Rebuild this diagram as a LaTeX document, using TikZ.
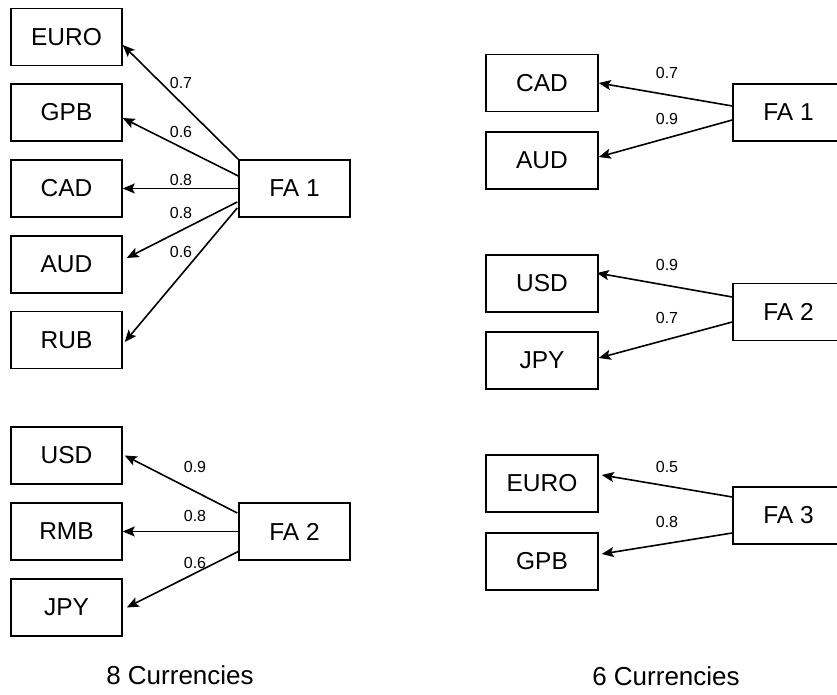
\documentclass[tikz,border=0pt]{standalone}
\usepackage{fontspec}
\setmainfont{Liberation Sans}
\usetikzlibrary{arrows.meta}
\begin{document}
\begin{tikzpicture}[x=1pt,y=1pt,
  box/.style={draw,line width=1.5pt,minimum width=111pt,minimum height=57pt,inner sep=0pt,font=\fontsize{24.5}{28}\selectfont},
  lbl/.style={inner sep=0pt,font=\fontsize{16}{19}\selectfont},
  captxt/.style={inner sep=0pt,font=\fontsize{26}{30}\selectfont},
  conn/.style={line width=1.6pt,-{Stealth[length=12pt,width=10pt,inset=2.5pt]}}]
\useasboundingbox (0,0) rectangle (837,695);
% ---- left: FA1 group
\node[box] (le) at (66.5,658) {EURO};
\node[box] (lg) at (66.5,582.5) {GPB};
\node[box] (lc) at (66.5,506.5) {CAD};
\node[box] (la) at (66.5,430.5) {AUD};
\node[box] (lr) at (66.5,355) {RUB};
\node[box] (lf1) at (294.5,506.5) {FA 1};
\draw[conn] (lf1.north west) -- ([yshift=-8pt]le.east);
\draw[conn] ([yshift=12.5pt]lf1.west) -- ([yshift=-5.5pt]lg.east);
\draw[conn] (lf1.west) -- (lc.east);
\draw[conn] ([yshift=-13.5pt,xshift=-1pt]lf1.west) -- ([yshift=6.5pt,xshift=4pt]la.east);
\draw[conn] ([yshift=-19.5pt,xshift=-1pt]lf1.west) -- ([yshift=-2pt,xshift=2pt]lr.east);
\node[lbl] (l1) at (181,612) {0.7};
\node[lbl] (l2) at (181,563) {0.6};
\node[lbl] (l3) at (181,515) {0.8};
\node[lbl] (l4) at (181,482) {0.8};
\node[lbl] (l5) at (181,443) {0.6};
% ---- left: FA2 group
\node[box] (lu) at (66.5,239.5) {USD};
\node[box] (lm) at (66.5,163.5) {RMB};
\node[box] (lj) at (66.5,87.5) {JPY};
\node[box] (lf2) at (294.5,163.5) {FA 2};
\draw[conn] ([yshift=18.5pt,xshift=-1pt]lf2.west) -- ([xshift=2pt]lu.east);
\draw[conn] (lf2.west) -- (lm.east);
\draw[conn] ([yshift=-19.5pt,xshift=1pt]lf2.west) -- ([xshift=4pt]lj.east);
\node[lbl] (l6) at (195,228) {0.9};
\node[lbl] (l7) at (195,179) {0.8};
\node[lbl] (l8) at (195,132) {0.6};
\node[captxt] (c1) at (180,20) {8 Currencies};
% ---- right: FA1 group
\node[box,minimum width=112pt] (rc) at (542,612) {CAD};
\node[box,minimum width=112pt] (ra) at (542,534.5) {AUD};
\node[box] (rf1) at (788.5,582.5) {FA 1};
\draw[conn] ([yshift=6.5pt]rf1.west) -- (rc.east);
\draw[conn] ([yshift=-7.5pt]rf1.west) -- ([yshift=3.5pt]ra.east);
\node[lbl] (r1) at (667,622) {0.7};
\node[lbl] (r2) at (667,576) {0.9};
% ---- right: FA2 group
\node[box,minimum width=112pt] (ru) at (542,411.5) {USD};
\node[box,minimum width=112pt] (rj) at (542,334.5) {JPY};
\node[box] (rf2) at (788.5,383) {FA 2};
\draw[conn] ([yshift=15pt]rf2.west) -- ([yshift=10.5pt,xshift=-2pt]ru.east);
\draw[conn] ([yshift=-10pt]rf2.west) -- ([yshift=2.5pt]rj.east);
\node[lbl] (r3) at (667,430) {0.9};
\node[lbl] (r4) at (667,377) {0.7};
% ---- right: FA3 group
\node[box,minimum width=112pt] (re) at (542,211.5) {EURO};
\node[box,minimum width=112pt] (rg) at (542,133.5) {GPB};
\node[box] (rf3) at (788.5,179.5) {FA 3};
\draw[conn] ([yshift=18.5pt]rf3.west) -- ([yshift=8.5pt,xshift=3pt]re.east);
\draw[conn] ([yshift=-17.5pt]rf3.west) -- ([yshift=7.5pt,xshift=3pt]rg.east);
\node[lbl] (r5) at (667,228) {0.5};
\node[lbl] (r6) at (667,173) {0.8};
\node[captxt] (c2) at (666,19) {6 Currencies};
\end{tikzpicture}
\end{document}
